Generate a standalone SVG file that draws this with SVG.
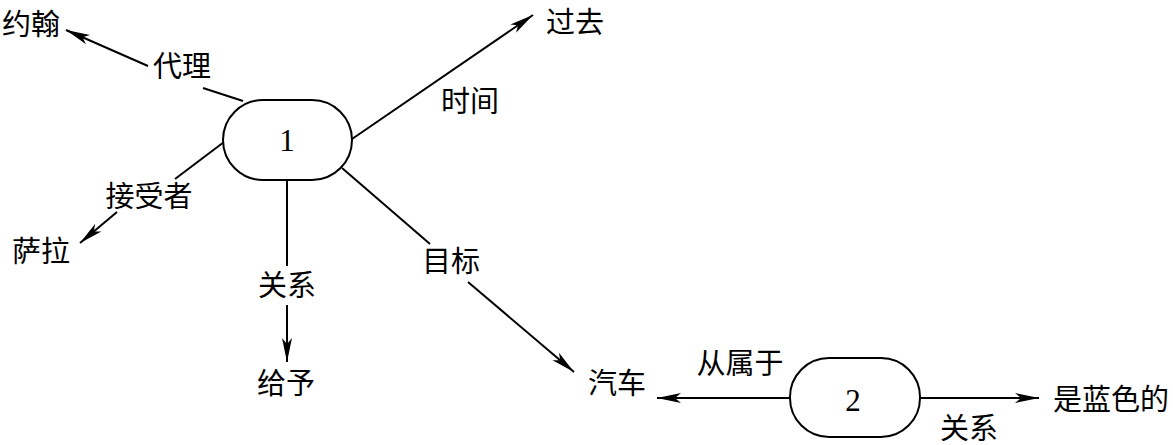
<svg xmlns="http://www.w3.org/2000/svg" width="1173" height="445" viewBox="0 0 1173 445">
<style>
.n{fill:#fff;stroke:#000;stroke-width:2}
.c line{stroke:#000;stroke-width:2;fill:none}
.t{font-family:"Noto Sans CJK SC","Noto Sans CJK JP",sans-serif;font-size:29px;fill:#000;text-anchor:middle}
.d{font-family:"Liberation Serif",serif;font-size:31px;fill:#000;text-anchor:middle}
</style>
<defs>
<marker id="a" markerUnits="userSpaceOnUse" markerWidth="26" markerHeight="12" refX="24" refY="5" orient="auto">
<path d="M0,0 L24,5 L0,10 L6,5 z" fill="#000"/>
</marker>
</defs>
<g id="connectors" class="c">
<line x1="243" y1="101" x2="203" y2="88"/>
<line x1="148" y1="66" x2="66" y2="30" marker-end="url(#a)"/>
<line x1="224" y1="142" x2="175" y2="179"/>
<line x1="117" y1="212" x2="80" y2="243" marker-end="url(#a)"/>
<line x1="287" y1="180" x2="287" y2="266"/>
<line x1="287" y1="305" x2="287" y2="362" marker-end="url(#a)"/>
<line x1="352" y1="139" x2="533" y2="15" marker-end="url(#a)"/>
<line x1="342" y1="168" x2="430" y2="244"/>
<line x1="468" y1="282" x2="574" y2="372" marker-end="url(#a)"/>
<line x1="790" y1="398" x2="657" y2="398" marker-end="url(#a)"/>
<line x1="920" y1="398" x2="1039" y2="398" marker-end="url(#a)"/>
</g>
<g id="node1">
<rect class="n" x="223" y="100" width="129" height="80" rx="40" ry="40"/>
<text class="d" x="287" y="151">1</text>
</g>
<g id="node2">
<rect class="n" x="790" y="358" width="130" height="79" rx="39" ry="39"/>
<text class="d" x="853" y="411">2</text>
</g>
<g id="yuehan"><text class="t" x="31" y="35">约翰</text></g>
<g id="sala"><text class="t" x="41" y="262">萨拉</text></g>
<g id="jiyu"><text class="t" x="286" y="394">给予</text></g>
<g id="guoqu"><text class="t" x="575" y="33">过去</text></g>
<g id="qiche"><text class="t" x="617" y="394">汽车</text></g>
<g id="shilanse"><text class="t" x="1111" y="410">是蓝色的</text></g>
<g id="labels">
<text class="t" x="182" y="77">代理</text>
<text class="t" x="149" y="207">接受者</text>
<text class="t" x="287" y="296">关系</text>
<text class="t" x="470" y="112">时间</text>
<text class="t" x="451" y="272">目标</text>
<text class="t" x="740" y="374">从属于</text>
<text class="t" x="969" y="439">关系</text>
</g>
</svg>
